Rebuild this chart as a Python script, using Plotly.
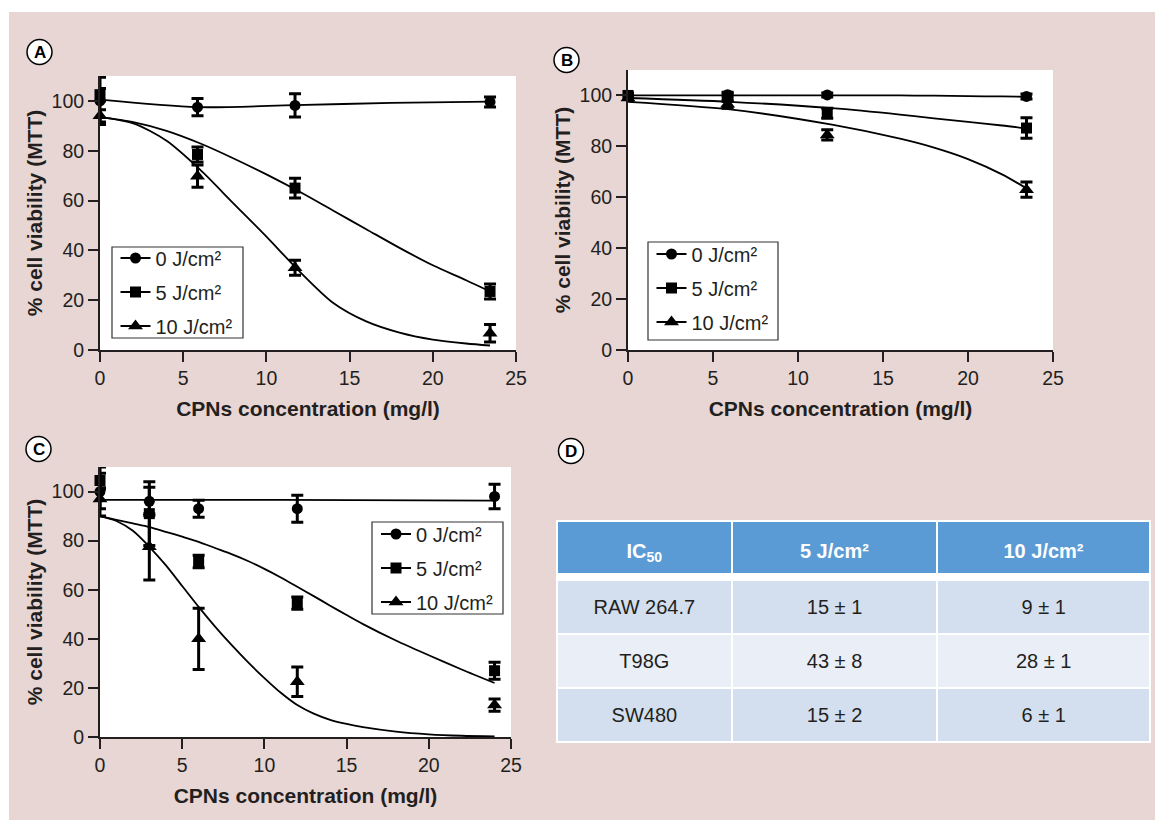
import plotly.graph_objects as go

# ---------------- data ----------------
conc_ab = [0, 5.86, 11.72, 23.44]
conc_c = [0, 3, 6, 12, 24]
series_names = ["0 J/cm²", "5 J/cm²", "10 J/cm²"]
symbols = ["circle", "square", "triangle-up"]

# Panel A (means, error)
a_0 = [100, 97.5, 98.2, 99.6]
a_0_err = [9.5, 3.5, 4.7, 2]
a_5 = [102.5, 78.5, 65, 23.5]
a_5_err = [2.5, 3, 4, 3]
a_10 = [94, 69.8, 33, 6.7]
a_10_err = [2.5, 4.5, 3, 3.5]
# Panel A fitted curves
a_fit0_x = [0, 5.86, 11.72, 17.5, 23.44]
a_fit0 = [100.5, 97.5, 98.3, 99.2, 99.7]
a_fit_x = [0, 2, 4, 6, 8, 10, 12, 14, 16, 18, 20, 22, 23.44]
a_fit5 = [93.5, 91.5, 88, 83, 77, 70.5, 63.5, 56, 48.5, 41, 34, 28, 23.5]
a_fit10 = [93.5, 91, 84, 72.5, 59, 45.5, 31.5, 19, 11.5, 7, 4.2, 2.6, 1.8]

# Panel B
b_0 = [100, 100.3, 100.2, 99.6]
b_0_err = [0.5, 1, 0.8, 1]
b_5 = [100, 99.2, 93, 87.2]
b_5_err = [1, 1.5, 2, 4]
b_10 = [99, 96.5, 84.5, 63]
b_10_err = [1, 1.5, 2, 3]
b_fit_x = [0, 6, 12, 16, 18, 20, 22, 23.44]
b_fit0 = [100, 100, 100, 100, 99.9, 99.7, 99.6, 99.5]
b_fit5 = [99, 97.5, 95, 92.5, 91, 89.6, 88.2, 87]
b_fit10 = [97.5, 94.5, 88.5, 83, 79.5, 75, 69, 63.5]

# Panel C
c_0 = [100, 96, 93, 93, 98]
c_0_err = [10, 5.8, 3.5, 5.5, 5]
c_5 = [104.5, 91, 71.5, 54.5, 27]
c_5_err = [3, 13, 2.5, 2.5, 3.5]
c_10 = [97, 77.5, 40, 22.5, 13]
c_10_err = [4, 13.5, 12.5, 6, 2.5]
c_fit0_x = [0, 11, 24]
c_fit0 = [96.6, 96.6, 96.3]
c_fit_x = [0, 1, 2, 3, 4, 5, 6, 7, 8, 9, 10, 11, 12, 13, 14, 15, 16, 18, 20, 22, 24]
c_fit5 = [90, 88.5, 87, 85.5, 83.6, 81.6, 79.5, 77, 74.5, 71.7, 68.5, 65, 61.2,
          57.4, 53.5, 49.7, 46, 39.3, 33.3, 27.5, 22]
c_fit10 = [90, 88, 84, 77.5, 70, 61.5, 53, 45, 37.5, 30.5, 24, 18, 13,
           9.5, 7, 5.3, 4, 2.2, 1.1, 0.5, 0.2]

# Panel D table
table_header = ["IC<sub>50</sub>", "5 J/cm²", "10 J/cm²"]
cell_lines = ["RAW 264.7", "T98G", "SW480"]
ic50_5 = ["15 ± 1", "43 ± 8", "15 ± 2"]
ic50_10 = ["9 ± 1", "28 ± 1", "6 ± 1"]

tick_vals_x = [0, 5, 10, 15, 20, 25]
tick_vals_y = [0, 20, 40, 60, 80, 100]

# ---------------- layout helpers ----------------
W, H = 1155, 820
FONT = "Liberation Sans, Arial, Helvetica, sans-serif"
INK = "#231f20"
PINK = "#e8d6d4"


def px(x):
    return x / W


def py(y):
    return 1 - y / H


fig = go.Figure()

panels = [
    dict(xa="x", ya="y", legend="legend", conc=conc_ab,
         means=[a_0, a_5, a_10], errs=[a_0_err, a_5_err, a_10_err],
         fits=[(a_fit0_x, a_fit0), (a_fit_x, a_fit5), (a_fit_x, a_fit10)]),
    dict(xa="x2", ya="y2", legend="legend2", conc=conc_ab,
         means=[b_0, b_5, b_10], errs=[b_0_err, b_5_err, b_10_err],
         fits=[(b_fit_x, b_fit0), (b_fit_x, b_fit5), (b_fit_x, b_fit10)]),
    dict(xa="x3", ya="y3", legend="legend3", conc=conc_c,
         means=[c_0, c_5, c_10], errs=[c_0_err, c_5_err, c_10_err],
         fits=[(c_fit0_x, c_fit0), (c_fit_x, c_fit5), (c_fit_x, c_fit10)]),
]

msize = [11, 11, 13]
for p in panels:
    for i in range(3):
        fx, fy = p["fits"][i]
        fig.add_trace(go.Scatter(
            x=fx, y=fy, mode="lines", xaxis=p["xa"], yaxis=p["ya"],
            line=dict(color="black", width=1.8, shape="spline", smoothing=0.8),
            showlegend=False, hoverinfo="skip", cliponaxis=False))
    for i in range(3):
        fig.add_trace(go.Scatter(
            x=p["conc"], y=p["means"][i], mode="markers",
            xaxis=p["xa"], yaxis=p["ya"],
            marker=dict(symbol=symbols[i], size=msize[i], color="black"),
            error_y=dict(type="data", array=p["errs"][i], color="black",
                         thickness=3, width=6),
            showlegend=False, cliponaxis=False))
    # legend-only entries (line + marker symbol)
    for i in range(3):
        fig.add_trace(go.Scatter(
            x=[None], y=[None], mode="lines+markers", name=series_names[i],
            xaxis=p["xa"], yaxis=p["ya"], legend=p["legend"],
            legendgroup=p["legend"] + str(i),
            marker=dict(symbol=symbols[i], size=msize[i], color="black"),
            line=dict(color="black", width=2)))


def push_down(items, size, bold=False):
    # a blank first line moves the visible text towards the cell's middle
    out = []
    for s in items:
        s = "<b>%s</b>" % s if bold else s
        out.append("\u00a0<br><span style='font-size:%dpx'>%s</span>" % (size, s))
    return out


# table
row_fill = ["#d3dfee", "#e9eef7", "#d3dfee"]
fig.add_trace(go.Table(
    domain=dict(x=[px(557), px(1150)], y=[py(743), py(521)]),
    columnwidth=[175, 206, 213],
    header=dict(values=push_down(table_header, 20, bold=True),
                fill_color="#5b9bd5",
                line=dict(color="white", width=2), align="center",
                font=dict(family=FONT, size=13.3, color="white"), height=59),
    cells=dict(values=[push_down(cell_lines, 20), push_down(ic50_5, 20),
                       push_down(ic50_10, 20)],
               fill_color=[row_fill] * 3,
               line=dict(color="white", width=2), align="center",
               font=dict(family=FONT, size=11.9, color=INK), height=54),
))

axis_common = dict(
    showline=True, linecolor=INK, linewidth=2, ticks="outside", ticklen=10,
    tickwidth=2, tickcolor=INK, showgrid=False, zeroline=False,
    automargin=False, tickfont=dict(family=FONT, size=19.5, color=INK),
)
xtitle = dict(text="<b>CPNs concentration (mg/l)</b>",
              font=dict(family=FONT, size=21, color=INK), standoff=13)
ytitle = dict(text="<b>% cell viability (MTT)</b>",
              font=dict(family=FONT, size=21, color=INK), standoff=3)


def xax(dom, anchor):
    return dict(axis_common, domain=dom, anchor=anchor, range=[0, 25],
                tickvals=tick_vals_x, title=xtitle)


def yax(dom, anchor):
    return dict(axis_common, domain=dom, anchor=anchor, range=[0, 110],
                tickvals=tick_vals_y, title=ytitle)


leg_common = dict(bgcolor="rgba(0,0,0,0)", borderwidth=0,
                  font=dict(family=FONT, size=20, color=INK),
                  xanchor="left", yanchor="top", itemwidth=30,
                  tracegroupgap=5)

fig.update_layout(
    width=W, height=H, autosize=False,
    margin=dict(l=0, r=0, t=0, b=0, pad=0, autoexpand=False),
    paper_bgcolor=PINK, plot_bgcolor="white", showlegend=True,
    font=dict(family=FONT, color=INK),
    xaxis=xax([px(100), px(516)], "y"),
    yaxis=yax([py(350), py(76)], "x"),
    xaxis2=xax([px(628), px(1053)], "y2"),
    yaxis2=yax([py(350), py(70)], "x2"),
    xaxis3=xax([px(100), px(511)], "y3"),
    yaxis3=yax([py(737), py(467)], "x3"),
    legend=dict(leg_common, x=px(115.5), y=py(238.5)),
    legend2=dict(leg_common, x=px(651.5), y=py(234.5)),
    legend3=dict(leg_common, x=px(376), y=py(514.5)),
)

shapes = [
    # white frame strips at top and left
    dict(type="rect", xref="paper", yref="paper", x0=0, x1=1, y0=py(12), y1=1,
         fillcolor="white", line=dict(width=0), layer="below"),
    dict(type="rect", xref="paper", yref="paper", x0=0, x1=px(9), y0=0, y1=1,
         fillcolor="white", line=dict(width=0), layer="below"),
    # white gap under the table header
    dict(type="rect", xref="paper", yref="paper", x0=px(557), x1=px(1150),
         y0=py(580), y1=py(573), fillcolor="white", line=dict(width=0),
         layer="above"),
]
# legend frames (boxes behind the legend entries)
for (x0, y0, x1, y1) in [(112, 247, 243, 338), (648, 242, 778, 340),
                         (372, 522, 503, 614)]:
    shapes.append(dict(type="rect", xref="paper", yref="paper",
                       x0=px(x0), x1=px(x1), y0=py(y1), y1=py(y0),
                       fillcolor="white", line=dict(color="#333333", width=1.2),
                       layer="above"))
annotations = []
labels = [("A", 39.5, 52), ("B", 566.5, 60), ("C", 38.5, 449), ("D", 571, 451)]
r = 12.5
for t, cx, cy in labels:
    shapes.append(dict(type="circle", xref="paper", yref="paper",
                       x0=px(cx - r), x1=px(cx + r), y0=py(cy + r), y1=py(cy - r),
                       fillcolor="white", line=dict(color="black", width=1.5)))
    annotations.append(dict(text="<b>%s</b>" % t, x=px(cx), y=py(cy + 0.5),
                            xref="paper", yref="paper", showarrow=False,
                            font=dict(family=FONT, size=17, color="black"),
                            xanchor="center", yanchor="middle"))
fig.update_layout(shapes=shapes, annotations=annotations)

html = fig.to_html(
    config={"displayModeBar": False, "responsive": False},
    include_plotlyjs=True, full_html=True,
    default_width="%dpx" % W, default_height="%dpx" % H,
)
html = html.replace(
    "<head>",
    "<head><style>html,body{margin:0;padding:0;overflow:hidden;"
    "background:%s;}</style>" % PINK, 1)
with open("out.html", "w", encoding="utf-8") as f:
    f.write(html)
